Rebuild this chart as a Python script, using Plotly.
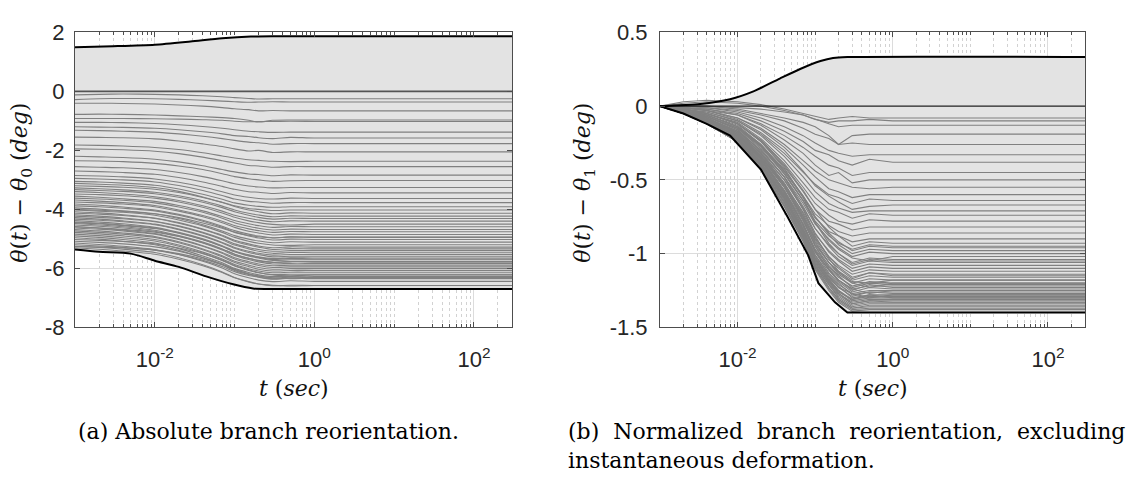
import numpy as np
import plotly.graph_objects as go

# ---------------- data ----------------
# common time samples (sec)
t = [0.001, 0.002, 0.004, 0.01, 0.02, 0.04, 0.07, 0.1, 0.15, 0.2, 0.3, 0.5, 1, 300]

# branch angle at first time step, panel (a)  (deg)
theta_start = [-0.12, -0.28, -0.40, -0.78, -0.92, -1.05, -1.20, -1.32, -1.55, -1.82,
               -1.95, -2.20, -2.35, -2.55, -2.70, -2.85, -2.95, -3.05, -3.12, -3.20,
               -3.27, -3.33, -3.40, -3.48, -3.55, -3.62, -3.68, -3.75, -3.82, -3.88,
               -3.95, -4.02, -4.08, -4.13, -4.18, -4.23, -4.28, -4.33, -4.38, -4.43,
               -4.48, -4.53, -4.58, -4.63, -4.68, -4.73, -4.78, -4.84, -4.90, -4.96,
               -5.02, -5.08, -5.14, -5.20, -5.26, -4.00, -5.30, -5.25, -4.45, -4.60]

# normalized reorientation theta(t) - theta_1, panel (b)  (deg)
dtheta = [
    [0, 0.02, 0.03, 0.02, 0.00, -0.03, -0.06, -0.09, -0.12, -0.14, -0.13, -0.13, -0.13, -0.13],
    [0, 0.03, 0.04, 0.03, 0.01, -0.02, -0.05, -0.07, -0.09, -0.08, -0.07, -0.08, -0.08, -0.08],
    [0, 0.00, -0.01, -0.03, -0.06, -0.10, -0.15, -0.19, -0.22, -0.26, -0.25, -0.26, -0.26, -0.26],
    [0, 0.01, 0.00, -0.02, -0.05, -0.08, -0.11, -0.14, -0.20, -0.26, -0.20, -0.19, -0.19, -0.19],
    [0, 0.00, 0.00, -0.01, -0.02, -0.04, -0.06, -0.09, -0.11, -0.10, -0.10, -0.09, -0.10, -0.10],
    [0, 0.00, -0.01, -0.04, -0.08, -0.14, -0.20, -0.25, -0.30, -0.32, -0.34, -0.33, -0.33, -0.33],
    [0, -0.01, -0.02, -0.05, -0.10, -0.17, -0.24, -0.30, -0.33, -0.37, -0.40, -0.36, -0.38, -0.38],
    [0, -0.01, -0.03, -0.06, -0.12, -0.20, -0.28, -0.34, -0.40, -0.42, -0.47, -0.45, -0.45, -0.45],
    [0, -0.01, -0.02, -0.06, -0.13, -0.23, -0.32, -0.40, -0.47, -0.45, -0.52, -0.50, -0.50, -0.50],
    [0, -0.01, -0.03, -0.08, -0.15, -0.26, -0.37, -0.44, -0.50, -0.52, -0.55, -0.56, -0.55, -0.55],
    [0, -0.01, -0.03, -0.08, -0.16, -0.28, -0.40, -0.48, -0.56, -0.58, -0.62, -0.60, -0.60, -0.60],
    [0, -0.02, -0.04, -0.10, -0.19, -0.32, -0.45, -0.53, -0.60, -0.62, -0.66, -0.63, -0.64, -0.64],
    [0, -0.01, -0.03, -0.09, -0.18, -0.30, -0.44, -0.54, -0.61, -0.65, -0.70, -0.68, -0.67, -0.67],
    [0, -0.02, -0.04, -0.10, -0.20, -0.34, -0.48, -0.58, -0.66, -0.69, -0.72, -0.71, -0.71, -0.71],
    [0, -0.02, -0.05, -0.11, -0.22, -0.37, -0.52, -0.62, -0.70, -0.72, -0.76, -0.73, -0.74, -0.74],
    [0, -0.02, -0.05, -0.12, -0.23, -0.39, -0.55, -0.66, -0.74, -0.78, -0.80, -0.77, -0.78, -0.78],
    [0, -0.02, -0.05, -0.12, -0.24, -0.41, -0.58, -0.70, -0.78, -0.80, -0.84, -0.82, -0.82, -0.82],
    [0, -0.02, -0.06, -0.13, -0.26, -0.44, -0.61, -0.73, -0.81, -0.85, -0.88, -0.86, -0.86, -0.86],
    [0, -0.03, -0.06, -0.14, -0.27, -0.46, -0.64, -0.76, -0.85, -0.88, -0.92, -0.90, -0.90, -0.90],
    [0, -0.02, -0.05, -0.12, -0.23, -0.40, -0.57, -0.70, -0.82, -0.88, -0.95, -0.92, -0.93, -0.93],
    [0, -0.03, -0.07, -0.15, -0.27, -0.44, -0.62, -0.75, -0.86, -0.92, -0.98, -0.95, -0.96, -0.96],
    [0, -0.03, -0.06, -0.14, -0.26, -0.43, -0.61, -0.75, -0.87, -0.94, -1.00, -0.97, -0.98, -0.98],
    [0, -0.03, -0.08, -0.17, -0.30, -0.48, -0.66, -0.80, -0.90, -0.96, -1.02, -0.99, -1.00, -1.00],
    [0, -0.02, -0.06, -0.14, -0.27, -0.45, -0.64, -0.79, -0.91, -0.97, -1.03, -1.05, -1.02, -1.02],
    [0, -0.04, -0.09, -0.18, -0.32, -0.50, -0.69, -0.83, -0.94, -1.00, -1.06, -1.03, -1.04, -1.04],
    [0, -0.03, -0.07, -0.16, -0.30, -0.48, -0.68, -0.83, -0.95, -1.02, -1.08, -1.05, -1.06, -1.06],
    [0, -0.04, -0.09, -0.19, -0.34, -0.53, -0.72, -0.87, -0.98, -1.04, -1.10, -1.07, -1.08, -1.08],
    [0, -0.03, -0.07, -0.16, -0.31, -0.50, -0.70, -0.86, -0.99, -1.05, -1.12, -1.09, -1.10, -1.10],
    [0, -0.04, -0.10, -0.20, -0.35, -0.55, -0.75, -0.90, -1.02, -1.08, -1.14, -1.11, -1.12, -1.12],
    [0, -0.03, -0.08, -0.17, -0.32, -0.52, -0.73, -0.89, -1.02, -1.09, -1.16, -1.13, -1.14, -1.14],
    [0, -0.04, -0.10, -0.20, -0.36, -0.57, -0.78, -0.94, -1.06, -1.12, -1.18, -1.15, -1.16, -1.16],
    [0, -0.04, -0.08, -0.18, -0.34, -0.54, -0.76, -0.93, -1.06, -1.13, -1.19, -1.20, -1.18, -1.18],
    [0, -0.04, -0.10, -0.21, -0.37, -0.59, -0.80, -0.97, -1.09, -1.16, -1.22, -1.19, -1.20, -1.20],
    [0, -0.03, -0.08, -0.18, -0.34, -0.55, -0.77, -0.95, -1.08, -1.15, -1.23, -1.20, -1.21, -1.21],
    [0, -0.05, -0.11, -0.22, -0.38, -0.60, -0.82, -0.99, -1.11, -1.18, -1.24, -1.22, -1.22, -1.22],
    [0, -0.04, -0.09, -0.19, -0.35, -0.57, -0.80, -0.98, -1.11, -1.19, -1.26, -1.23, -1.24, -1.24],
    [0, -0.05, -0.11, -0.22, -0.39, -0.61, -0.84, -1.01, -1.14, -1.21, -1.27, -1.25, -1.25, -1.25],
    [0, -0.04, -0.09, -0.19, -0.36, -0.58, -0.81, -0.99, -1.13, -1.20, -1.28, -1.26, -1.26, -1.26],
    [0, -0.05, -0.11, -0.23, -0.40, -0.62, -0.85, -1.03, -1.16, -1.23, -1.29, -1.26, -1.27, -1.27],
    [0, -0.04, -0.10, -0.20, -0.37, -0.59, -0.83, -1.01, -1.15, -1.22, -1.30, -1.28, -1.28, -1.28],
    [0, -0.05, -0.11, -0.23, -0.41, -0.63, -0.86, -1.04, -1.18, -1.25, -1.31, -1.29, -1.29, -1.29],
    [0, -0.04, -0.10, -0.21, -0.38, -0.61, -0.85, -1.03, -1.17, -1.25, -1.32, -1.30, -1.30, -1.30],
    [0, -0.05, -0.12, -0.24, -0.42, -0.65, -0.88, -1.06, -1.19, -1.27, -1.33, -1.31, -1.31, -1.31],
    [0, -0.04, -0.10, -0.21, -0.39, -0.62, -0.86, -1.05, -1.19, -1.27, -1.34, -1.32, -1.32, -1.32],
    [0, -0.05, -0.12, -0.24, -0.42, -0.66, -0.89, -1.08, -1.21, -1.29, -1.35, -1.33, -1.33, -1.33],
    [0, -0.05, -0.11, -0.22, -0.40, -0.64, -0.88, -1.07, -1.21, -1.30, -1.36, -1.34, -1.34, -1.34],
    [0, -0.05, -0.12, -0.24, -0.43, -0.67, -0.90, -1.09, -1.23, -1.31, -1.37, -1.35, -1.35, -1.35],
    [0, -0.05, -0.12, -0.23, -0.41, -0.65, -0.89, -1.08, -1.23, -1.31, -1.37, -1.36, -1.36, -1.36],
    [0, -0.05, -0.12, -0.24, -0.43, -0.68, -0.91, -1.10, -1.24, -1.32, -1.38, -1.37, -1.37, -1.37],
    [0, -0.05, -0.12, -0.24, -0.43, -0.68, -0.92, -1.11, -1.25, -1.33, -1.39, -1.38, -1.38, -1.38],
    [0, -0.03, -0.07, -0.15, -0.29, -0.48, -0.70, -0.88, -1.03, -1.12, -1.20, -1.23, -1.20, -1.20],
    [0, -0.04, -0.09, -0.19, -0.34, -0.55, -0.77, -0.95, -1.10, -1.18, -1.24, -1.27, -1.25, -1.25],
    [0, -0.05, -0.11, -0.22, -0.39, -0.62, -0.85, -1.04, -1.18, -1.26, -1.31, -1.28, -1.30, -1.30],
    [0, -0.04, -0.09, -0.18, -0.33, -0.53, -0.74, -0.91, -1.04, -1.10, -1.17, -1.13, -1.15, -1.15],
    [0, -0.02, -0.05, -0.12, -0.24, -0.42, -0.62, -0.79, -0.93, -1.00, -1.07, -1.04, -1.05, -1.05],
    [0, -0.03, -0.07, -0.15, -0.28, -0.46, -0.64, -0.78, -0.88, -0.93, -0.97, -0.94, -0.95, -0.95],
    [0, -0.05, -0.11, -0.22, -0.39, -0.61, -0.84, -1.02, -1.16, -1.23, -1.27, -1.30, -1.28, -1.28],
    [0, -0.04, -0.10, -0.21, -0.39, -0.63, -0.87, -1.06, -1.20, -1.28, -1.34, -1.32, -1.33, -1.33],
    [0, -0.04, -0.10, -0.20, -0.36, -0.58, -0.80, -0.98, -1.11, -1.18, -1.25, -1.21, -1.23, -1.23],
    [0, -0.03, -0.08, -0.17, -0.32, -0.53, -0.75, -0.92, -1.06, -1.14, -1.20, -1.17, -1.18, -1.18],
]

# envelopes, panel (a)
a_up_t = [0.001, 0.003, 0.01, 0.028, 0.07, 0.16, 0.3, 300]
a_up_v = [1.50, 1.53, 1.58, 1.69, 1.80, 1.86, 1.87, 1.87]
a_lo_t = [0.001, 0.002, 0.005, 0.01, 0.02, 0.044, 0.096, 0.17, 0.25, 300]
a_lo_v = [-5.36, -5.44, -5.50, -5.74, -5.95, -6.27, -6.54, -6.68, -6.70, -6.70]
# envelopes, panel (b)
b_up_t = [0.001, 0.0033, 0.008, 0.016, 0.035, 0.064, 0.117, 0.17, 0.26, 300]
b_up_v = [0, 0.015, 0.047, 0.10, 0.187, 0.252, 0.306, 0.327, 0.333, 0.333]
b_lo_t = [0.001, 0.002, 0.004, 0.008, 0.02, 0.044, 0.081, 0.11, 0.18, 0.26, 300]
b_lo_v = [0, -0.05, -0.12, -0.20, -0.43, -0.75, -1.01, -1.20, -1.33, -1.40, -1.40]

x_tickvals = [0.01, 1, 100]
x_ticktext = ["10<sup>-2</sup>", "10<sup>0</sup>", "10<sup>2</sup>"]
ya_tickvals = [2, 0, -2, -4, -6, -8]
ya_ticktext = ["2", "0", "-2", "-4", "-6", "-8"]
yb_tickvals = [0.5, 0, -0.5, -1, -1.5]
yb_ticktext = ["0.5", "0", "-0.5", "-1", "-1.5"]

# ---------------- styling ----------------
W, H = 1137, 485
FILL = "#e3e3e3"
GRAY = "rgb(128,128,128)"
AX = "#4d4d4d"
TICKFONT = dict(family="Liberation Sans, Arial, sans-serif", size=22, color="#262626")
SERIF = "DejaVu Serif, serif"

def px_x(p):
    return p / W

def px_y(p):
    return 1 - p / H

fig = go.Figure()

def add_panel(xa, ya, lines_t, lines_v, up_t, up_v, lo_t, lo_v, shape, up_shape, zero_color, zero_w):
    fig.add_trace(go.Scatter(x=list(up_t) + list(lo_t)[::-1], y=list(up_v) + list(lo_v)[::-1],
                             fill="toself", fillcolor=FILL, line=dict(width=0), mode="lines",
                             xaxis=xa, yaxis=ya, hoverinfo="skip", showlegend=False))
    xs, ys = [], []
    for vals in lines_v:
        xs += list(lines_t) + [None]
        ys += list(vals) + [None]
    fig.add_trace(go.Scatter(x=xs, y=ys, mode="lines",
                             line=dict(color=GRAY, width=1.1, shape=shape, smoothing=0.7),
                             xaxis=xa, yaxis=ya, hoverinfo="skip", showlegend=False,
                             connectgaps=False))
    fig.add_trace(go.Scatter(x=[lines_t[0], lines_t[-1]], y=[0, 0], mode="lines",
                             line=dict(color=zero_color, width=zero_w),
                             xaxis=xa, yaxis=ya, hoverinfo="skip", showlegend=False))
    for et, ev, sh in ((up_t, up_v, up_shape), (lo_t, lo_v, shape)):
        fig.add_trace(go.Scatter(x=et, y=ev, mode="lines",
                                 line=dict(color="black", width=2, shape=sh, smoothing=0.7),
                                 xaxis=xa, yaxis=ya, hoverinfo="skip", showlegend=False))

lines_a = [[s + d for d in row] for s, row in zip(theta_start, dtheta)]
add_panel("x", "y", t, lines_a, a_up_t, a_up_v, a_lo_t, a_lo_v, "spline", "spline", "#555555", 1.6)
add_panel("x2", "y2", t, dtheta, b_up_t, b_up_v, b_lo_t, b_lo_v, "linear", "spline", "#222222", 1.1)

minor_vals = [k * 10.0 ** e for e in range(-3, 3) for k in range(1, 10)
              if not (k == 1 and e in (-3, -2, 0, 2)) and k * 10.0 ** e <= 300]

def xaxis_cfg(x0, x1, anchor):
    return dict(domain=[px_x(x0), px_x(x1)], anchor=anchor, type="log",
                range=[-3, np.log10(300)], tickmode="array", tickvals=x_tickvals,
                ticktext=x_ticktext, ticks="inside", ticklen=5, tickwidth=1, tickcolor=AX,
                showline=True, linecolor=AX, linewidth=1, mirror="allticks",
                showgrid=True, gridcolor="#dcdcdc", gridwidth=1, zeroline=False,
                tickfont=TICKFONT, ticklabelstandoff=12,
                minor=dict(tickmode="array", tickvals=minor_vals, ticks="inside", ticklen=3,
                           tickwidth=1, tickcolor=AX, showgrid=True, gridcolor="#d2d2d2",
                           griddash="dot", gridwidth=1))

def yaxis_cfg(rng, tv, tt, anchor, standoff):
    return dict(domain=[px_y(332.5), px_y(21.5)], anchor=anchor, range=rng,
                tickmode="array", tickvals=tv, ticktext=tt, ticks="inside", ticklen=5,
                tickwidth=1, tickcolor=AX, showline=True, linecolor=AX, linewidth=1,
                mirror="allticks", showgrid=True, gridcolor="#dcdcdc", gridwidth=1,
                zeroline=False, tickfont=TICKFONT, ticklabelstandoff=standoff)

fig.update_layout(
    width=W, height=H, margin=dict(l=0, r=0, t=0, b=0),
    paper_bgcolor="white", plot_bgcolor="white", showlegend=False,
    xaxis=xaxis_cfg(75, 512, "y"),
    yaxis=yaxis_cfg([-8, 2], ya_tickvals, ya_ticktext, "x", 5),
    xaxis2=xaxis_cfg(660, 1085, "y2"),
    yaxis2=yaxis_cfg([-1.5, 0.5], yb_tickvals, yb_ticktext, "x2", 7),
)

GAP = " \u00a0"
ann = []
for xc in (293.5, 872.5):
    ann.append(dict(text="<i>t</i> (<i>sec</i>)", x=px_x(xc), y=px_y(397), xref="paper", yref="paper",
                    showarrow=False, xanchor="center", yanchor="middle",
                    font=dict(family=SERIF, size=22, color="#111")))
ann.append(dict(text="<i>θ</i>(<i>t</i>) − <i>θ</i><sub>0</sub> (<i>deg</i>)", x=px_x(22), y=px_y(180),
                xref="paper", yref="paper", showarrow=False, textangle=-90,
                xanchor="center", yanchor="middle", font=dict(family=SERIF, size=22, color="#111")))
ann.append(dict(text="<i>θ</i>(<i>t</i>) − <i>θ</i><sub>1</sub> (<i>deg</i>)", x=px_x(585), y=px_y(180),
                xref="paper", yref="paper", showarrow=False, textangle=-90,
                xanchor="center", yanchor="middle", font=dict(family=SERIF, size=22, color="#111")))
ann.append(dict(text="(a) Absolute branch reorientation.", x=px_x(268), y=px_y(442),
                xref="paper", yref="paper", showarrow=False, xanchor="center", yanchor="middle",
                font=dict(family=SERIF, size=22, color="black")))
ann.append(dict(text=GAP.join(["(b)", "Normalized", "branch", "reorientation,", "excluding"]),
                x=px_x(566), y=px_y(442), xref="paper", yref="paper", showarrow=False,
                xanchor="left", yanchor="middle", font=dict(family=SERIF, size=22, color="black")))
ann.append(dict(text="instantaneous deformation.", x=px_x(566), y=px_y(473),
                xref="paper", yref="paper", showarrow=False, xanchor="left", yanchor="middle",
                font=dict(family=SERIF, size=22, color="black")))
fig.update_layout(annotations=ann)

fig.write_html("out.html")
